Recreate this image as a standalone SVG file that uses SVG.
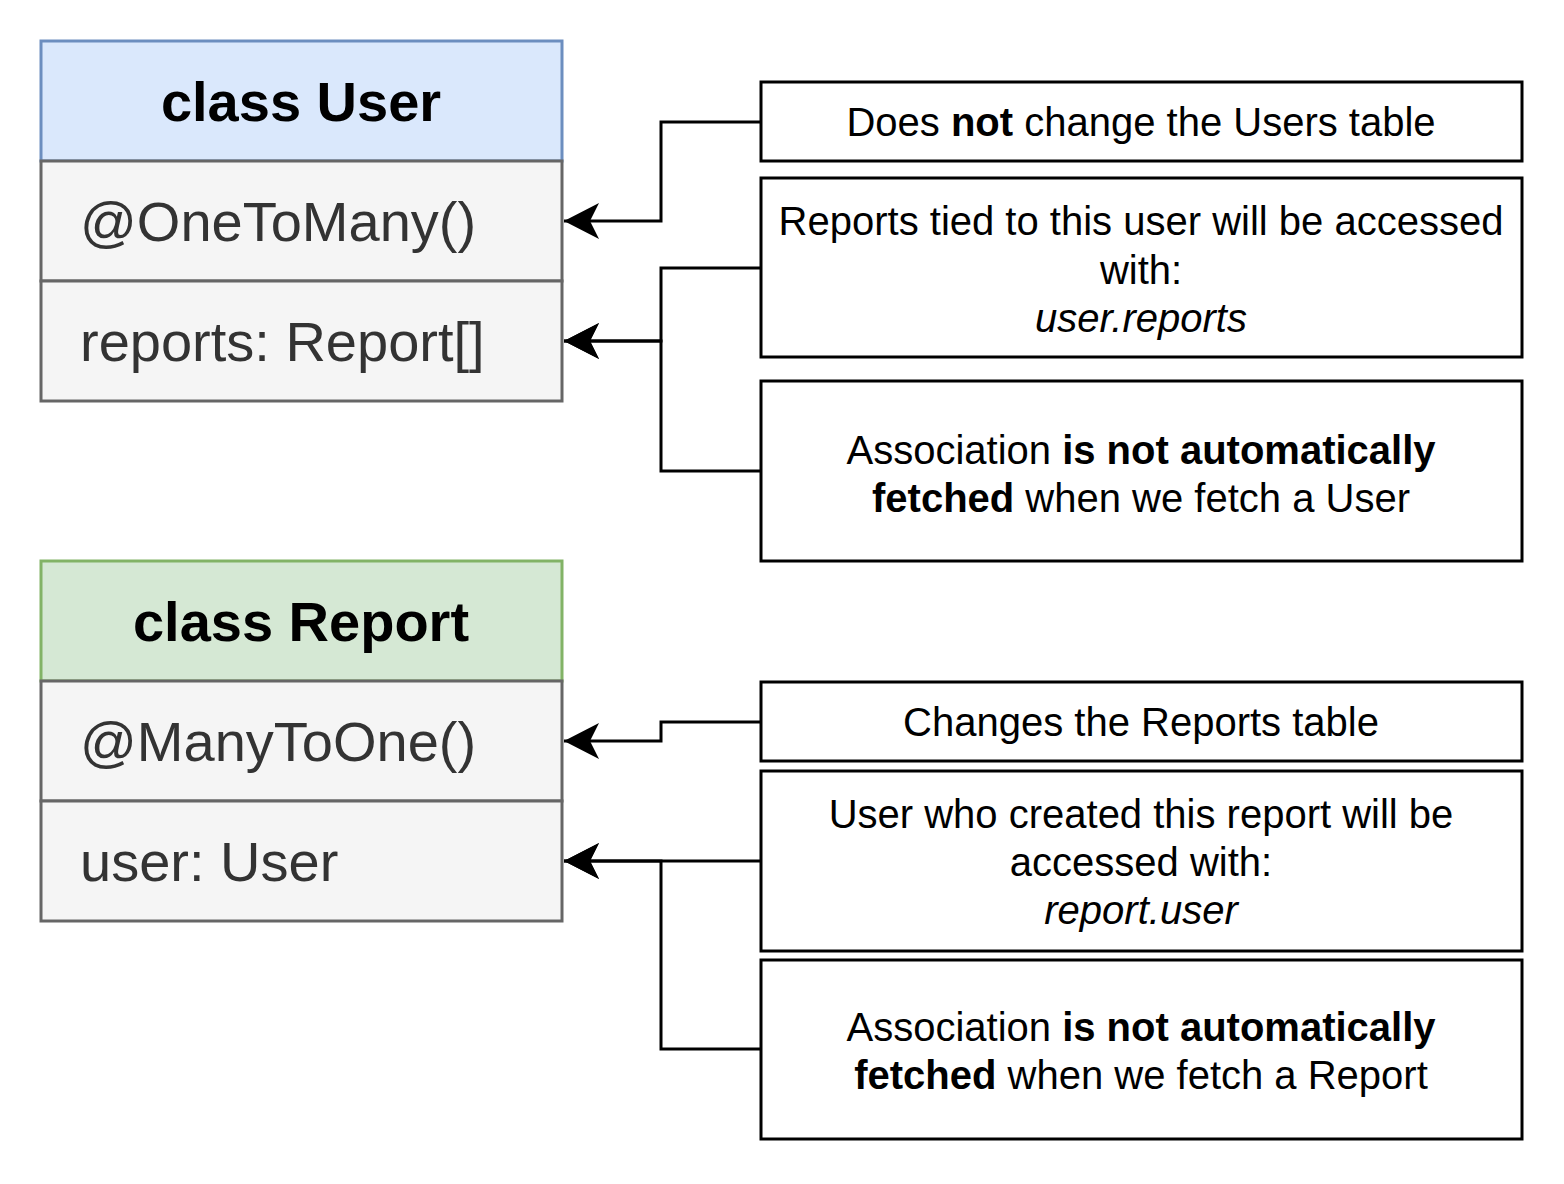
<svg xmlns="http://www.w3.org/2000/svg" width="1564" height="1184" viewBox="0 0 1564 1184">
<style>
text{font-family:"Liberation Sans",Arial,sans-serif}
.title{font-size:56px;font-weight:bold;fill:#000;text-anchor:middle}
.row{font-size:56px;fill:#333333}
.note{font-size:40px;fill:#000;text-anchor:middle}
.rowbox{fill:#f5f5f5;stroke:#666666;stroke-width:3}
.notebox{fill:#ffffff;stroke:#000000;stroke-width:3}
.conn{fill:none;stroke:#000;stroke-width:3}
</style>
<defs>
<marker id="arr" markerUnits="userSpaceOnUse" markerWidth="40" markerHeight="40" viewBox="0 0 40 40" refX="38" refY="20" orient="auto">
<path d="M38,20 L3,2 L12,20 L3,38 Z" fill="#000"/>
</marker>
</defs>
<rect width="1564" height="1184" fill="#ffffff"/>
<g id="class-user">
<rect x="41" y="41" width="521" height="120" fill="#dae8fc" stroke="#6c8ebf" stroke-width="3"/>
<text class="title" x="301" y="121">class User</text>
<rect class="rowbox" x="41" y="161" width="521" height="120"/>
<text class="row" x="80" y="241">@OneToMany()</text>
<rect class="rowbox" x="41" y="281" width="521" height="120"/>
<text class="row" x="80" y="361">reports: Report[]</text>
</g>
<g id="class-report">
<rect x="41" y="561" width="521" height="120" fill="#d5e8d4" stroke="#82b366" stroke-width="3"/>
<text class="title" x="301" y="641">class Report</text>
<rect class="rowbox" x="41" y="681" width="521" height="120"/>
<text class="row" x="80" y="761">@ManyToOne()</text>
<rect class="rowbox" x="41" y="801" width="521" height="120"/>
<text class="row" x="80" y="881">user: User</text>
</g>
<g id="note-users-table">
<rect class="notebox" x="761" y="82" width="761" height="79"/>
<text class="note" x="1141" y="136">Does <tspan font-weight="bold">not</tspan> change the Users table</text>
</g>
<g id="note-user-reports">
<rect class="notebox" x="761" y="178" width="761" height="179"/>
<text class="note" x="1141" y="235">Reports tied to this user will be accessed</text>
<text class="note" x="1141" y="284">with:</text>
<text class="note" x="1141" y="332" font-style="italic">user.reports</text>
</g>
<g id="note-user-fetch">
<rect class="notebox" x="761" y="381" width="761" height="180"/>
<text class="note" x="1141" y="464">Association <tspan font-weight="bold">is not automatically</tspan></text>
<text class="note" x="1141" y="512"><tspan font-weight="bold">fetched</tspan> when we fetch a User</text>
</g>
<g id="note-reports-table">
<rect class="notebox" x="761" y="682" width="761" height="79"/>
<text class="note" x="1141" y="736">Changes the Reports table</text>
</g>
<g id="note-report-user">
<rect class="notebox" x="761" y="771" width="761" height="180"/>
<text class="note" x="1141" y="828">User who created this report will be</text>
<text class="note" x="1141" y="876">accessed with:</text>
<text class="note" x="1141" y="924" font-style="italic">report.user</text>
</g>
<g id="note-report-fetch">
<rect class="notebox" x="761" y="960" width="761" height="179"/>
<text class="note" x="1141" y="1041">Association <tspan font-weight="bold">is not automatically</tspan></text>
<text class="note" x="1141" y="1089"><tspan font-weight="bold">fetched</tspan> when we fetch a Report</text>
</g>
<g id="connectors">
<path class="conn" d="M761,122 H661 V221 H564" marker-end="url(#arr)"/>
<path class="conn" d="M761,268 H661 V341 H564" marker-end="url(#arr)"/>
<path class="conn" d="M761,471 H661 V341 H564" marker-end="url(#arr)"/>
<path class="conn" d="M761,722 H661 V741 H564" marker-end="url(#arr)"/>
<path class="conn" d="M761,861 H564" marker-end="url(#arr)"/>
<path class="conn" d="M761,1049 H661 V861 H564" marker-end="url(#arr)"/>
</g>
</svg>
